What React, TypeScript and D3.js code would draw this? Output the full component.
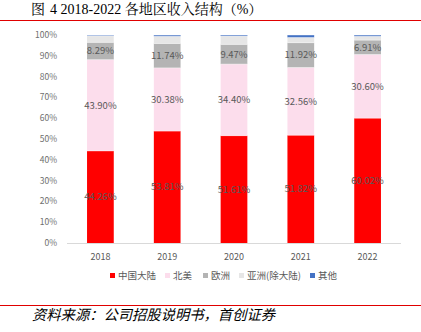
import React from "react";
import * as d3 from "d3";

const years = ["2018", "2019", "2020", "2021", "2022"];
const chinaMainland = [44.26, 53.81, 51.61, 51.82, 60.02];
const northAmerica = [43.9, 30.38, 34.4, 32.56, 30.6];
const europe = [8.29, 11.74, 9.47, 11.92, 6.91];
const asiaExMainland = [3.2, 3.47, 4.02, 2.5, 1.87];
const others = [0.35, 0.6, 0.5, 1.2, 0.6];
const yTicks = [0, 10, 20, 30, 40, 50, 60, 70, 80, 90, 100];
const legendLabels = ["中国大陆", "北美", "欧洲", "亚洲(除大陆)", "其他"];

const colors = ["#FF0000", "#FCDDEC", "#B4B4B4", "#E6E6E6", "#4472C4"];
const labeled = [true, true, true, false, false];

export default function App() {
  const W = 421, H = 332;
  const x = d3.scaleBand().domain(years).range([67, 401]).paddingInner(0.6).paddingOuter(0.3);
  const y = d3.scaleLinear().domain([0, 100]).range([243, 35]);

  const table = years.map((yr, i) => ({
    year: yr,
    s0: chinaMainland[i],
    s1: northAmerica[i],
    s2: europe[i],
    s3: asiaExMainland[i],
    s4: others[i],
  }));
  const stack = d3.stack<any>().keys(["s0", "s1", "s2", "s3", "s4"])(table);

  const legendX = [110, 165, 203, 239, 310];

  return (
    <svg width={W} height={H} style={{ position: "absolute", left: 0, top: 0, background: "#fff" }}
      fontFamily="'Microsoft YaHei', 'Noto Sans CJK SC', sans-serif">
      <rect width={W} height={H} fill="#fff" />
      <g fontFamily="'Liberation Serif', 'Noto Serif CJK SC', 'Noto Sans CJK SC', serif" fontSize={14} fill="#000">
        <text x={31} y={14}>图</text>
        <text x={50} y={14}>4 2018-2022 各地区收入结构（%）</text>
      </g>
      <line x1={0} x2={W} y1={20.5} y2={20.5} stroke="#E00000" strokeWidth={1.2} />

      {yTicks.map((t) => (
        <text key={t} x={57} y={y(t)} dy="0.35em" textAnchor="end" fontSize={8.5} fill="#6e6e6e">
          {t}%
        </text>
      ))}
      <line x1={67} x2={401} y1={y(0) + 0.5} y2={y(0) + 0.5} stroke="#D9D9D9" strokeWidth={1} />

      {stack.map((layer, si) => (
        <g key={si}>
          {layer.map((d, i) => {
            const top = y(d[1]);
            const bot = y(d[0]);
            return (
              <rect key={i} x={x(years[i])} y={top} width={x.bandwidth()} height={Math.max(0, bot - top)}
                fill={colors[si]} />
            );
          })}
        </g>
      ))}
      {stack.map((layer, si) => (
        <g key={"sep" + si}>
          {layer.map((d, i) => (
            <line key={i} x1={x(years[i])!} x2={x(years[i])! + x.bandwidth()} y1={y(d[1])} y2={y(d[1])} stroke="#fff" strokeWidth={0.4} />
          ))}
        </g>
      ))}
      {stack.map((layer, si) =>
        labeled[si] ? (
          <g key={"lab" + si}>
            {layer.map((d, i) => (
              <text key={i} x={x(years[i])! + x.bandwidth() / 2} y={(y(d[0]) + y(d[1])) / 2} dy="0.35em"
                textAnchor="middle" fontSize={9.5} fill="#595959">
                {(d[1] - d[0]).toFixed(2)}%
              </text>
            ))}
          </g>
        ) : null
      )}

      {years.map((yr) => (
        <text key={yr} x={x(yr)! + x.bandwidth() / 2} y={257} dy="0.35em" textAnchor="middle" fontSize={9} fill="#595959">
          {yr}
        </text>
      ))}

      {legendLabels.map((l, i) => (
        <g key={l}>
          <rect x={legendX[i]} y={273} width={5} height={5} fill={colors[i]} />
          <text x={legendX[i] + 8} y={276} dy="0.35em" fontSize={9.5} fill="#595959">{l}</text>
        </g>
      ))}

      <line x1={0} x2={W} y1={305.5} y2={305.5} stroke="#E00000" strokeWidth={1.2} />
      <text x={32} y={320} fontSize={14.3} fontStyle="italic" fill="#000"
        fontFamily="'Noto Sans CJK SC', sans-serif">
        资料来源：公司招股说明书，首创证券
      </text>
    </svg>
  );
}
